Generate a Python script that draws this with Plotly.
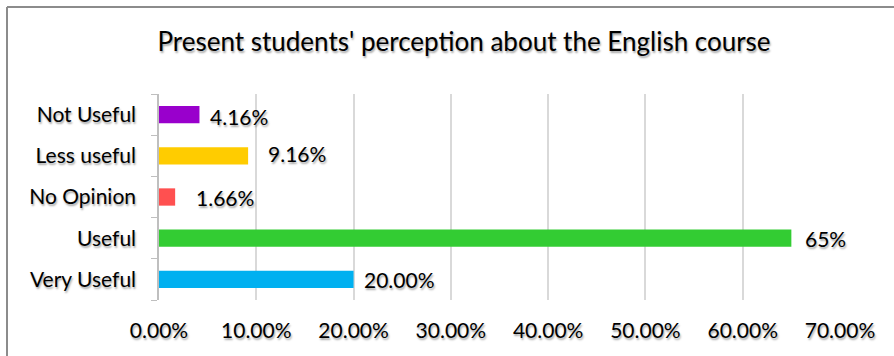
import plotly.graph_objects as go

# Survey responses (percent of students), bottom-to-top order on the y axis
categories = ["Very Useful", "Useful", "No Opinion", "Less useful", "Not Useful"]
percentages = [20.00, 65, 1.66, 9.16, 4.16]
value_labels = ["20.00%", "65%", "1.66%", "9.16%", "4.16%"]
bar_colors = ["#00B0F0", "#33CC33", "#FF5050", "#FFCC00", "#9900CC"]
x_tick_values = [0, 10, 20, 30, 40, 50, 60, 70]
x_tick_labels = ["0.00%", "10.00%", "20.00%", "30.00%", "40.00%", "50.00%", "60.00%", "70.00%"]

# label gap (px) from the bar end, per category
label_gaps = [8, 12, 19, 18, 9]
label_dy = [0, 0, 0, 2, -2]

W, H = 894, 356
M = dict(l=159, r=54, t=94, b=56)
FONT = "Lato, Calibri, Carlito, 'Open Sans', sans-serif"
SHADOW = "1px 2px 2px rgba(0,0,0,0.35)"

fig = go.Figure(
    go.Bar(
        x=percentages,
        y=categories,
        orientation="h",
        marker=dict(color=bar_colors, line=dict(width=0)),
        hoverinfo="skip",
    )
)

for cat, val, txt, gap, dy in zip(categories, percentages, value_labels, label_gaps, label_dy):
    fig.add_annotation(
        x=val, y=cat, xref="x", yref="y",
        text=txt, showarrow=False,
        xanchor="left", yanchor="middle",
        xshift=gap, yshift=dy,
        font=dict(family=FONT, size=21, color="#000000", shadow=SHADOW),
    )

# outer chart frame (left and top edges visible)
pw = W - M["l"] - M["r"]
ph = H - M["t"] - M["b"]
def px_x(p):
    return (p - M["l"]) / pw
def px_y(p):
    return 1 - (p - M["t"]) / ph

frame = dict(color="#8C8C8C", width=2)
fig.add_shape(type="line", xref="paper", yref="paper",
              x0=px_x(7), x1=px_x(W + 5), y0=px_y(7), y1=px_y(7), line=frame)
fig.add_shape(type="line", xref="paper", yref="paper",
              x0=px_x(7), x1=px_x(7), y0=px_y(7), y1=px_y(H + 5), line=frame)

fig.update_layout(
    width=W, height=H,
    margin=M,
    paper_bgcolor="white",
    plot_bgcolor="white",
    bargap=0.58,
    showlegend=False,
    title=dict(
        text="Present students' perception about the English course",
        x=464 / W, xanchor="center",
        y=1 - 42 / H, yanchor="middle",
        font=dict(family=FONT, size=26, color="#000000", shadow=SHADOW),
    ),
    xaxis=dict(
        range=[0, 70],
        tickvals=x_tick_values,
        ticktext=x_tick_labels,
        showgrid=True, gridcolor="#D9D9D9", gridwidth=1.5,
        zeroline=False, showline=False, ticks="",
        tickfont=dict(family=FONT, size=21, color="#000000", shadow=SHADOW),
        ticklabelstandoff=16,
        fixedrange=True,
    ),
    yaxis=dict(
        showline=True, linecolor="#BFBFBF", linewidth=1.5,
        ticks="outside", tickson="boundaries", ticklen=6, tickcolor="#BFBFBF",
        showgrid=False,
        tickfont=dict(family=FONT, size=21, color="#000000", shadow=SHADOW),
        ticklabelstandoff=17,
        fixedrange=True,
    ),
)

fig.write_html("out.html")
